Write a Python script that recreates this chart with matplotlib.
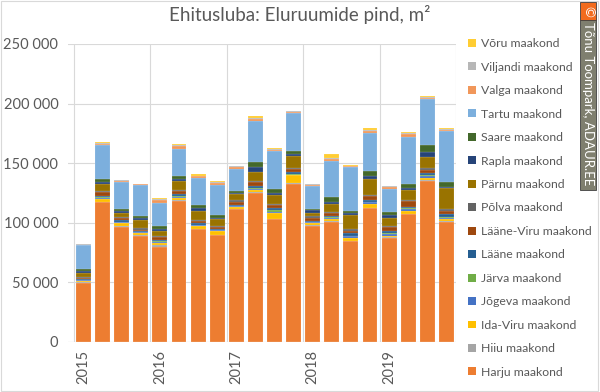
import matplotlib
matplotlib.use("Agg")
import matplotlib.pyplot as plt
from matplotlib.patches import Rectangle, Patch
import numpy as np

plt.rcParams["font.family"] = ["Lato", "DejaVu Sans"]

title = "Ehitusluba: Eluruumide pind, m²"
years = ["2015", "2016", "2017", "2018", "2019"]

counties = ["Harju maakond", "Hiiu maakond", "Ida-Viru maakond", "Jõgeva maakond",
            "Järva maakond", "Lääne maakond", "Lääne-Viru maakond", "Põlva maakond",
            "Pärnu maakond", "Rapla maakond", "Saare maakond", "Tartu maakond",
            "Valga maakond", "Viljandi maakond", "Võru maakond"]

# quarterly values 2015 Q1 .. 2019 Q4, m2
harju = [49750, 117200, 96800, 89200, 80000, 118300, 94500, 89800, 111300, 125300,
         103200, 132600, 97600, 100900, 84700, 112100, 87500, 107100, 135400, 100900]
hiiu = [200, 400, 300, 300, 1300, 1000, 300, 300, 300, 400,
        300, 400, 300, 300, 300, 400, 300, 400, 400, 400]
ida_viru = [1000, 2000, 2800, 2000, 2000, 1500, 2200, 2800, 1400, 1400,
            4700, 6700, 2000, 2000, 2000, 3600, 1400, 2800, 2000, 2000]
jogeva = [800, 1200, 800, 700, 800, 800, 1000, 800, 800, 1200,
          1000, 800, 700, 1000, 1500, 1000, 1200, 1000, 1200, 1000]
jarva = [300, 500, 300, 300, 400, 800, 400, 400, 500, 800,
         1500, 800, 300, 600, 500, 500, 800, 800, 1500, 500]
laane = [800, 1500, 1000, 800, 1200, 1500, 1000, 1000, 1000, 1500,
         1500, 1000, 1000, 1200, 2500, 1500, 2000, 1000, 1500, 2500]
laane_viru = [800, 3000, 2000, 1000, 2500, 2500, 2000, 1500, 2500, 3500,
              2500, 3000, 2500, 2500, 2000, 3500, 3000, 5000, 2500, 3000]
polva = [500, 800, 800, 1000, 1000, 1000, 800, 800, 1000, 1000,
         1000, 1000, 1000, 800, 1000, 1000, 1000, 1000, 1200, 1000]
parnu = [3600, 5600, 3500, 7000, 3800, 8000, 8000, 5500, 5000, 7500,
         7200, 9600, 3000, 6500, 12000, 13000, 7000, 8000, 9800, 17600]
rapla = [1800, 2000, 1300, 1500, 1500, 1500, 1800, 1500, 1200, 3900,
         2000, 1500, 2000, 2000, 2000, 3000, 2000, 2000, 3500, 1500]
saare = [1600, 2500, 2000, 2200, 2800, 2200, 2500, 2500, 2000, 4500,
         3500, 3000, 1500, 3500, 1700, 4200, 2500, 3500, 6100, 4200]
tartu = [19800, 28500, 22400, 25700, 19000, 22900, 23400, 25100, 18200, 34100,
         31900, 31300, 18700, 30500, 36600, 31800, 19600, 39700, 38800, 42000]
valga = [800, 1000, 1000, 500, 2500, 2000, 1000, 1500, 1200, 2000,
         1000, 1000, 1200, 1700, 700, 1500, 1500, 2000, 800, 1000]
viljandi = [400, 800, 500, 300, 1200, 1500, 500, 800, 1200, 1000,
            500, 800, 600, 1000, 500, 1000, 1000, 1000, 800, 1300]
voru = [200, 1000, 700, 400, 800, 1000, 1800, 500, 400, 1500,
        700, 400, 500, 2900, 800, 1200, 300, 700, 700, 1000]

series = [harju, hiiu, ida_viru, jogeva, jarva, laane, laane_viru, polva,
          parnu, rapla, saare, tartu, valga, viljandi, voru]
colors = ["#ED7D31", "#A5A5A5", "#FFC000", "#4472C4", "#70AD47", "#255E91",
          "#9E480E", "#636363", "#997300", "#264478", "#43682B", "#7CAFDD",
          "#F1975A", "#B7B7B7", "#FFCD33"]

txt = "#595959"
fig = plt.figure(figsize=(6, 3.92), dpi=100)
ax = fig.add_axes([0.1133, 0.1276, 0.6467, 0.7602])

x = np.arange(len(harju))
bottom = np.zeros(len(x))
for vals, c, name in zip(series, colors, counties):
    ax.bar(x, vals, bottom=bottom, width=0.78, color=c, edgecolor="#FFFFFF80",
           linewidth=0.2, label=name, zorder=3)
    bottom += np.array(vals)

ax.set_ylim(0, 250000)
ax.set_xlim(-0.81, 19.5)
ax.set_yticks(np.arange(0, 250001, 50000))
ax.set_yticklabels([f"{v:,}".replace(",", " ") for v in range(0, 250001, 50000)])
ax.grid(axis="y", color="#D9D9D9", linewidth=0.8, zorder=0)
for b in np.arange(-0.5, 20, 4):
    ax.axvline(b, color="#D9D9D9", linewidth=0.8, zorder=0)
ax.set_xticks(np.arange(0, 20, 4))
ax.set_xticklabels(years, rotation=90)
ax.tick_params(length=0, labelsize=10.5, labelcolor=txt)
ax.tick_params(axis="y", pad=7)
ax.tick_params(axis="x", pad=6)
for s in ax.spines.values():
    s.set_visible(False)
ax.axhline(0, color="#D9D9D9", linewidth=0.8, zorder=4)

fig.text(0.5, 0.962, title, ha="center", va="center", fontsize=13.5, color=txt)

handles = [Patch(facecolor=c, edgecolor="none") for c in colors][::-1]
fig.legend(handles, counties[::-1], loc="upper left", bbox_to_anchor=(0.772, 0.915),
           frameon=False, fontsize=8.8, labelcolor=txt, handlelength=0.62,
           handleheight=0.62, handletextpad=0.4, labelspacing=1.02,
           borderaxespad=0)

# chart border and watermark
fig.patches.append(Rectangle((0.002, 0.003), 0.995, 0.994, transform=fig.transFigure,
                             fill=False, edgecolor="#D9D9D9", linewidth=0.8))
fig.patches.append(Rectangle((580 / 600, 1 - 190 / 392), 16 / 600, 170 / 392,
                             transform=fig.transFigure, facecolor="#7F7F6F",
                             edgecolor="#404040", linewidth=0.6))
fig.patches.append(Rectangle((580 / 600, 1 - 20 / 392), 16 / 600, 18 / 392,
                             transform=fig.transFigure, facecolor="#F26B1D",
                             edgecolor="#404040", linewidth=0.6))
fig.text(588 / 600, 1 - 11 / 392, "©", ha="center", va="center", color="white",
         fontsize=9.5, rotation=-90)
fig.text(588 / 600, 1 - 104 / 392, "Tõnu Toompark, ADAUR.EE", ha="center",
         va="center", color="white", fontsize=9.5, rotation=-90)

fig.savefig("out.png", dpi=100)
